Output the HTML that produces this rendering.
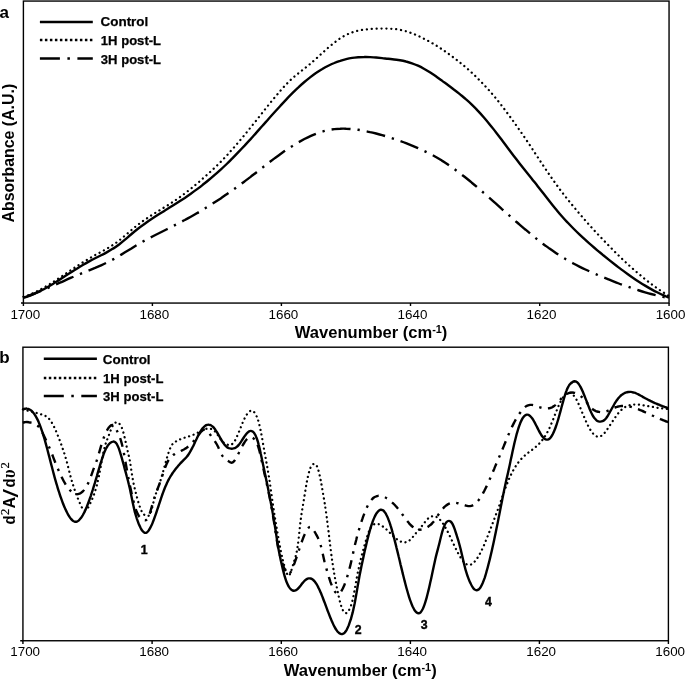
<!DOCTYPE html>
<html>
<head>
<meta charset="utf-8">
<title>Figure</title>
<style>
html,body{margin:0;padding:0;background:#fff;}
body{width:685px;height:681px;overflow:hidden;}
svg{display:block;}
text{font-family:"Liberation Sans",sans-serif;fill:#000;}
.b{font-weight:bold;}
.tick{font-size:12.7px;}
.leg{font-size:13.7px;font-weight:bold;stroke:#000;stroke-width:0.25px;}
.ax{font-size:16px;font-weight:bold;}
.pk{font-size:12.3px;font-weight:bold;stroke:#000;stroke-width:0.4px;}
.pl{font-size:17px;font-weight:bold;}
.c{fill:none;stroke:#000;stroke-width:2.4;stroke-linejoin:round;}
.l{fill:none;stroke:#000;stroke-width:2.5;}
.ldot{stroke-dasharray:2.5 2.5;}
.ldd{stroke-dasharray:20 7.5 2.5 7.5;}
.dot{stroke-dasharray:0.1 4.8;stroke-linecap:round;stroke-width:2.25;}
.dd{stroke-dasharray:19 7 2.3 7;}
.dotb{stroke-dasharray:0.1 4.62;stroke-linecap:round;stroke-width:2.25;}
.ddb{stroke-dasharray:8.8 6.45 2.4 6.45;}
.sf{font-family:"Liberation Serif",serif;font-weight:normal;}
.fr{fill:none;stroke:#000;stroke-width:1.4;}
</style>
</head>
<body>
<svg width="685" height="681" viewBox="0 0 685 681">
<rect x="0" y="0" width="685" height="681" fill="#fff"/>

<!-- ===== panel a ===== -->
<g id="panel-a">
<rect class="fr" x="23.4" y="1.06" width="645.65" height="302" stroke-width="1.5"/>
<path class="fr" stroke-width="1.35" d="M21 303.06H23.4M23.4 303v3M152.4 303v3M281.4 303v3M410.5 303v3M539.7 303v3M669.05 303v3"/>
<text class="pl" x="-0.6" y="17.6">a</text>
<path class="l" d="M39.9 22.1H92.8"/>
<path class="l ldot" d="M39.9 40H92.8"/>
<path class="l ldd" d="M39.9 58.6H92.8"/>
<text class="leg" x="100.5" y="25.8" textLength="47.8" lengthAdjust="spacingAndGlyphs">Control</text>
<text class="leg" x="100.8" y="44.8" textLength="60.3" lengthAdjust="spacingAndGlyphs">1H post-L</text>
<text class="leg" x="100.8" y="63.7" textLength="60.3" lengthAdjust="spacingAndGlyphs">3H post-L</text>
<path class="c" d="M23.4 297.7C25.4 297.2 27.4 296.5 29.4 295.8C31.4 295.1 33.4 294.2 35.4 293.3C37.3 292.4 39.3 291.5 41.3 290.4C43.3 289.4 45.3 288.3 47.3 287.2C49.3 286.1 51.3 284.9 53.3 283.7C55.3 282.4 57.3 281.2 59.3 279.9C61.3 278.7 63.3 277.4 65.2 276.1C67.2 274.8 69.2 273.5 71.2 272.3C73.2 271 75.2 269.7 77.2 268.5C79.2 267.2 81.2 266 83.2 264.8C85.2 263.6 87.2 262.5 89.2 261.4C91.2 260.3 93.1 259.3 95.1 258.3C97.1 257.3 99.1 256.3 101.1 255.3C103.1 254.3 105.1 253.2 107.1 252.1C109.1 251 111.1 249.9 113.1 248.6C115.1 247.4 117.1 246 119.1 244.5C121 243 123 241.4 125 239.7C127 238 129 236.2 131 234.5C133 232.8 135 231.1 137 229.5C139 227.9 141 226.4 143 225C145 223.5 147 222.1 148.9 220.7C150.9 219.4 152.9 218.1 154.9 216.8C156.9 215.5 158.9 214.2 160.9 213C162.9 211.8 164.9 210.5 166.9 209.3C168.9 208.1 170.9 206.9 172.9 205.6C174.8 204.4 176.8 203.1 178.8 201.8C180.8 200.5 182.8 199.2 184.8 197.9C186.8 196.5 188.8 195.1 190.8 193.7C192.8 192.3 194.8 190.9 196.8 189.4C198.8 187.9 200.8 186.4 202.7 184.8C204.7 183.3 206.7 181.7 208.7 180C210.7 178.4 212.7 176.7 214.7 174.9C216.7 173.2 218.7 171.4 220.7 169.6C222.7 167.8 224.7 165.9 226.7 164C228.7 162.1 230.6 160.1 232.6 158.1C234.6 156.1 236.6 154 238.6 151.9C240.6 149.8 242.6 147.7 244.6 145.6C246.6 143.4 248.6 141.2 250.6 139.1C252.6 136.9 254.6 134.6 256.6 132.4C258.5 130.2 260.5 128 262.5 125.7C264.5 123.5 266.5 121.2 268.5 119C270.5 116.7 272.5 114.5 274.5 112.3C276.5 110.1 278.5 107.9 280.5 105.7C282.5 103.5 284.4 101.4 286.4 99.3C288.4 97.2 290.4 95.2 292.4 93.2C294.4 91.2 296.4 89.2 298.4 87.4C300.4 85.5 302.4 83.7 304.4 82C306.4 80.3 308.4 78.7 310.4 77.1C312.3 75.6 314.3 74.1 316.3 72.8C318.3 71.4 320.3 70.1 322.3 69C324.3 67.8 326.3 66.7 328.3 65.7C330.3 64.7 332.3 63.8 334.3 63C336.3 62.1 338.3 61.4 340.2 60.8C342.2 60.1 344.2 59.6 346.2 59.1C348.2 58.6 350.2 58.2 352.2 57.9C354.2 57.6 356.2 57.4 358.2 57.2C360.2 57.1 362.2 57 364.2 57C366.2 56.9 368.1 57 370.1 57.1C372.1 57.2 374.1 57.3 376.1 57.5C378.1 57.7 380.1 57.9 382.1 58.1C384.1 58.3 386.1 58.6 388.1 58.8C390.1 59.1 392.1 59.3 394.1 59.5C396 59.7 398 60 400 60.3C402 60.6 404 61 406 61.5C408 61.9 410 62.6 412 63.3C414 64 416 64.8 418 65.7C420 66.6 421.9 67.6 423.9 68.7C425.9 69.8 427.9 71 429.9 72.3C431.9 73.6 433.9 74.9 435.9 76.3C437.9 77.7 439.9 79.2 441.9 80.6C443.9 82.1 445.9 83.5 447.9 85C449.8 86.4 451.8 87.9 453.8 89.5C455.8 91 457.8 92.5 459.8 94.1C461.8 95.8 463.8 97.4 465.8 99.2C467.8 100.9 469.8 102.7 471.8 104.6C473.8 106.5 475.8 108.5 477.7 110.6C479.7 112.7 481.7 114.9 483.7 117.2C485.7 119.5 487.7 121.9 489.7 124.4C491.7 126.8 493.7 129.4 495.7 131.9C497.7 134.5 499.7 137.1 501.7 139.8C503.7 142.4 505.6 145.1 507.6 147.7C509.6 150.4 511.6 153 513.6 155.7C515.6 158.3 517.6 160.9 519.6 163.5C521.6 166 523.6 168.5 525.6 171C527.6 173.5 529.6 175.9 531.6 178.4C533.5 180.9 535.5 183.3 537.5 185.9C539.5 188.4 541.5 190.9 543.5 193.5C545.5 196.1 547.5 198.7 549.5 201.2C551.5 203.8 553.5 206.3 555.5 208.7C557.5 211.1 559.4 213.5 561.4 215.7C563.4 218 565.4 220.2 567.4 222.3C569.4 224.5 571.4 226.5 573.4 228.5C575.4 230.5 577.4 232.5 579.4 234.4C581.4 236.3 583.4 238.1 585.4 239.9C587.3 241.7 589.3 243.5 591.3 245.2C593.3 246.9 595.3 248.6 597.3 250.3C599.3 252 601.3 253.6 603.3 255.3C605.3 256.9 607.3 258.5 609.3 260.1C611.3 261.7 613.3 263.3 615.2 264.8C617.2 266.3 619.2 267.9 621.2 269.4C623.2 270.9 625.2 272.3 627.2 273.7C629.2 275.2 631.2 276.6 633.2 277.9C635.2 279.3 637.2 280.6 639.2 281.9C641.2 283.2 643.1 284.4 645.1 285.6C647.1 286.8 649.1 288 651.1 289.1C653.1 290.2 655.1 291.3 657.1 292.3C659.1 293.3 661.1 294.3 663.1 295.2C665.1 296.1 667.1 296.9 669 297.7"/>
<path class="c dot" d="M23.4 296.8C25.4 296.2 27.4 295.5 29.4 294.7C31.4 293.9 33.4 293 35.4 292.1C37.3 291.1 39.3 290.1 41.3 289C43.3 287.9 45.3 286.8 47.3 285.6C49.3 284.4 51.3 283.2 53.3 281.9C55.3 280.6 57.3 279.3 59.3 278C61.3 276.7 63.3 275.3 65.2 274C67.2 272.7 69.2 271.3 71.2 270C73.2 268.6 75.2 267.3 77.2 266C79.2 264.7 81.2 263.4 83.2 262.1C85.2 260.9 87.2 259.7 89.2 258.5C91.2 257.3 93.1 256.2 95.1 255.1C97.1 254 99.1 253 101.1 251.9C103.1 250.8 105.1 249.7 107.1 248.5C109.1 247.3 111.1 246.1 113.1 244.8C115.1 243.5 117.1 242.1 119.1 240.5C121 239 123 237.3 125 235.6C127 233.9 129 232.1 131 230.4C133 228.7 135 227 137 225.5C139 223.9 141 222.4 143 221C145 219.6 147 218.3 148.9 216.9C150.9 215.6 152.9 214.4 154.9 213.1C156.9 211.9 158.9 210.7 160.9 209.4C162.9 208.2 164.9 207 166.9 205.8C168.9 204.5 170.9 203.2 172.9 201.9C174.8 200.6 176.8 199.3 178.8 197.9C180.8 196.4 182.8 195 184.8 193.4C186.8 191.9 188.8 190.3 190.8 188.7C192.8 187.1 194.8 185.4 196.8 183.8C198.8 182.1 200.8 180.4 202.7 178.6C204.7 176.9 206.7 175.1 208.7 173.3C210.7 171.5 212.7 169.6 214.7 167.7C216.7 165.8 218.7 163.9 220.7 161.9C222.7 159.8 224.7 157.7 226.7 155.6C228.7 153.4 230.6 151.2 232.6 149C234.6 146.7 236.6 144.4 238.6 142C240.6 139.7 242.6 137.3 244.6 134.9C246.6 132.4 248.6 130 250.6 127.5C252.6 125.1 254.6 122.6 256.6 120.1C258.5 117.6 260.5 115.1 262.5 112.6C264.5 110 266.5 107.5 268.5 105.1C270.5 102.6 272.5 100.1 274.5 97.7C276.5 95.3 278.5 93 280.5 90.7C282.5 88.4 284.4 86.2 286.4 84.2C288.4 82.1 290.4 80.1 292.4 78.3C294.4 76.5 296.4 74.9 298.4 73.3C300.4 71.7 302.4 70.1 304.4 68.6C306.4 67 308.4 65.4 310.4 63.7C312.3 62 314.3 60.3 316.3 58.5C318.3 56.7 320.3 54.8 322.3 53C324.3 51.2 326.3 49.4 328.3 47.6C330.3 45.9 332.3 44.2 334.3 42.7C336.3 41.1 338.3 39.6 340.2 38.3C342.2 37 344.2 35.9 346.2 34.9C348.2 33.9 350.2 33.1 352.2 32.4C354.2 31.7 356.2 31.2 358.2 30.7C360.2 30.3 362.2 29.9 364.2 29.6C366.2 29.4 368.1 29.2 370.1 29C372.1 28.9 374.1 28.8 376.1 28.7C378.1 28.7 380.1 28.6 382.1 28.6C384.1 28.6 386.1 28.6 388.1 28.6C390.1 28.7 392.1 28.8 394.1 29C396 29.2 398 29.4 400 29.8C402 30.2 404 30.7 406 31.3C408 31.9 410 32.6 412 33.3C414 34.1 416 34.9 418 35.8C420 36.7 421.9 37.7 423.9 38.7C425.9 39.7 427.9 40.7 429.9 41.8C431.9 43 433.9 44.1 435.9 45.3C437.9 46.6 439.9 47.8 441.9 49.2C443.9 50.5 445.9 51.8 447.9 53.3C449.8 54.7 451.8 56.2 453.8 57.7C455.8 59.2 457.8 60.7 459.8 62.4C461.8 64 463.8 65.6 465.8 67.3C467.8 69.1 469.8 70.8 471.8 72.7C473.8 74.5 475.8 76.4 477.7 78.4C479.7 80.4 481.7 82.4 483.7 84.5C485.7 86.6 487.7 88.8 489.7 91.1C491.7 93.3 493.7 95.7 495.7 98.1C497.7 100.5 499.7 103 501.7 105.6C503.7 108.1 505.6 110.8 507.6 113.4C509.6 116.1 511.6 118.9 513.6 121.6C515.6 124.4 517.6 127.3 519.6 130.2C521.6 133 523.6 135.9 525.6 138.9C527.6 141.9 529.6 144.8 531.6 147.8C533.5 150.8 535.5 153.9 537.5 156.9C539.5 159.9 541.5 163 543.5 166C545.5 169 547.5 171.9 549.5 174.8C551.5 177.7 553.5 180.6 555.5 183.3C557.5 186.1 559.4 188.8 561.4 191.4C563.4 194 565.4 196.6 567.4 199.1C569.4 201.6 571.4 204 573.4 206.5C575.4 208.9 577.4 211.3 579.4 213.6C581.4 215.9 583.4 218.2 585.4 220.5C587.3 222.7 589.3 225 591.3 227.2C593.3 229.4 595.3 231.5 597.3 233.7C599.3 235.8 601.3 237.9 603.3 240C605.3 242.1 607.3 244.1 609.3 246.2C611.3 248.2 613.3 250.2 615.2 252.2C617.2 254.1 619.2 256.1 621.2 258C623.2 259.9 625.2 261.8 627.2 263.6C629.2 265.5 631.2 267.3 633.2 269.1C635.2 270.8 637.2 272.6 639.2 274.2C641.2 275.9 643.1 277.6 645.1 279.2C647.1 280.8 649.1 282.3 651.1 283.8C653.1 285.3 655.1 286.8 657.1 288.2C659.1 289.6 661.1 290.9 663.1 292.2C665.1 293.5 667.1 294.8 669 296"/>
<path class="c dd" d="M23.4 297.7C25.4 297 27.4 296.3 29.4 295.5C31.4 294.8 33.4 294 35.4 293.2C37.3 292.4 39.3 291.5 41.3 290.7C43.3 289.9 45.3 289 47.3 288.2C49.3 287.3 51.3 286.4 53.3 285.6C55.3 284.7 57.3 283.8 59.3 282.9C61.3 282.1 63.3 281.2 65.2 280.3C67.2 279.5 69.2 278.6 71.2 277.7C73.2 276.9 75.2 276 77.2 275.2C79.2 274.4 81.2 273.6 83.2 272.7C85.2 271.9 87.2 271.1 89.2 270.3C91.2 269.5 93.1 268.7 95.1 267.9C97.1 267 99.1 266.2 101.1 265.3C103.1 264.4 105.1 263.5 107.1 262.5C109.1 261.5 111.1 260.5 113.1 259.4C115.1 258.3 117.1 257.1 119.1 256C121 254.8 123 253.6 125 252.3C127 251.1 129 249.9 131 248.7C133 247.4 135 246.2 137 245C139 243.8 141 242.7 143 241.5C145 240.4 147 239.3 148.9 238.3C150.9 237.2 152.9 236.2 154.9 235.2C156.9 234.2 158.9 233.2 160.9 232.2C162.9 231.2 164.9 230.2 166.9 229.2C168.9 228.2 170.9 227.2 172.9 226.2C174.8 225.2 176.8 224.2 178.8 223.1C180.8 222.1 182.8 221 184.8 220C186.8 218.9 188.8 217.8 190.8 216.7C192.8 215.6 194.8 214.5 196.8 213.3C198.8 212.1 200.8 211 202.7 209.8C204.7 208.6 206.7 207.4 208.7 206.1C210.7 204.9 212.7 203.6 214.7 202.3C216.7 201 218.7 199.7 220.7 198.4C222.7 197 224.7 195.7 226.7 194.3C228.7 192.9 230.6 191.5 232.6 190.1C234.6 188.7 236.6 187.3 238.6 185.8C240.6 184.4 242.6 182.9 244.6 181.4C246.6 179.9 248.6 178.4 250.6 176.9C252.6 175.3 254.6 173.8 256.6 172.2C258.5 170.7 260.5 169.1 262.5 167.6C264.5 166 266.5 164.5 268.5 162.9C270.5 161.4 272.5 159.9 274.5 158.4C276.5 156.9 278.5 155.5 280.5 154C282.5 152.6 284.4 151.2 286.4 149.9C288.4 148.5 290.4 147.2 292.4 146C294.4 144.7 296.4 143.5 298.4 142.3C300.4 141.2 302.4 140.1 304.4 139C306.4 138 308.4 137 310.4 136.1C312.3 135.2 314.3 134.4 316.3 133.6C318.3 132.9 320.3 132.2 322.3 131.6C324.3 131 326.3 130.5 328.3 130.1C330.3 129.7 332.3 129.4 334.3 129.1C336.3 128.9 338.3 128.7 340.2 128.7C342.2 128.6 344.2 128.6 346.2 128.7C348.2 128.7 350.2 128.9 352.2 129.1C354.2 129.3 356.2 129.5 358.2 129.8C360.2 130.1 362.2 130.4 364.2 130.8C366.2 131.2 368.1 131.6 370.1 132.1C372.1 132.5 374.1 133 376.1 133.5C378.1 134 380.1 134.5 382.1 135.1C384.1 135.7 386.1 136.3 388.1 136.9C390.1 137.5 392.1 138.2 394.1 138.8C396 139.5 398 140.2 400 141C402 141.7 404 142.4 406 143.2C408 144 410 144.8 412 145.6C414 146.5 416 147.3 418 148.2C420 149.1 421.9 150 423.9 150.9C425.9 151.8 427.9 152.8 429.9 153.8C431.9 154.8 433.9 155.9 435.9 157C437.9 158.1 439.9 159.3 441.9 160.6C443.9 161.8 445.9 163.1 447.9 164.5C449.8 165.8 451.8 167.2 453.8 168.7C455.8 170.1 457.8 171.6 459.8 173.1C461.8 174.7 463.8 176.2 465.8 177.8C467.8 179.4 469.8 181 471.8 182.7C473.8 184.3 475.8 186 477.7 187.7C479.7 189.4 481.7 191.1 483.7 192.9C485.7 194.6 487.7 196.4 489.7 198.1C491.7 199.9 493.7 201.7 495.7 203.4C497.7 205.2 499.7 207 501.7 208.8C503.7 210.5 505.6 212.3 507.6 214.1C509.6 215.9 511.6 217.6 513.6 219.4C515.6 221.1 517.6 222.9 519.6 224.6C521.6 226.3 523.6 228.1 525.6 229.7C527.6 231.4 529.6 233.1 531.6 234.7C533.5 236.4 535.5 238 537.5 239.5C539.5 241.1 541.5 242.7 543.5 244.2C545.5 245.7 547.5 247.1 549.5 248.6C551.5 250 553.5 251.4 555.5 252.7C557.5 254.1 559.4 255.4 561.4 256.6C563.4 257.9 565.4 259.1 567.4 260.2C569.4 261.4 571.4 262.5 573.4 263.5C575.4 264.6 577.4 265.6 579.4 266.6C581.4 267.6 583.4 268.6 585.4 269.5C587.3 270.4 589.3 271.3 591.3 272.2C593.3 273.1 595.3 274 597.3 274.8C599.3 275.7 601.3 276.5 603.3 277.3C605.3 278.1 607.3 278.9 609.3 279.7C611.3 280.5 613.3 281.3 615.2 282.1C617.2 282.9 619.2 283.6 621.2 284.4C623.2 285.1 625.2 285.8 627.2 286.5C629.2 287.2 631.2 287.9 633.2 288.6C635.2 289.3 637.2 289.9 639.2 290.5C641.2 291.2 643.1 291.8 645.1 292.3C647.1 292.9 649.1 293.5 651.1 294C653.1 294.5 655.1 295 657.1 295.5C659.1 296 661.1 296.4 663.1 296.9C665.1 297.3 667.1 297.7 669 298"/>
<g class="tick">
<text x="10.40" y="319.35" font-size="13" textLength="29.8" lengthAdjust="spacingAndGlyphs">1700</text>
<text x="139.45" y="319.35" font-size="13" textLength="29.8" lengthAdjust="spacingAndGlyphs">1680</text>
<text x="268.50" y="319.35" font-size="13" textLength="29.8" lengthAdjust="spacingAndGlyphs">1660</text>
<text x="397.55" y="319.35" font-size="13" textLength="29.8" lengthAdjust="spacingAndGlyphs">1640</text>
<text x="526.60" y="319.35" font-size="13" textLength="29.8" lengthAdjust="spacingAndGlyphs">1620</text>
<text x="655.65" y="319.35" font-size="13" textLength="29.8" lengthAdjust="spacingAndGlyphs">1600</text>
</g>
<text class="ax" x="294.8" y="338.1" textLength="152.6" lengthAdjust="spacingAndGlyphs">Wavenumber (cm<tspan font-size="10.5" dy="-5.5">-1</tspan><tspan dy="5.5">)</tspan></text>
<text class="ax" transform="translate(13.5 222.4) rotate(-90)" textLength="138.6" lengthAdjust="spacingAndGlyphs">Absorbance (A.U.)</text>
</g>

<!-- ===== panel b ===== -->
<g id="panel-b">
<rect class="fr" x="22.93" y="347.2" width="645.47" height="293.55" stroke-width="1.55"/>
<path class="fr" stroke-width="1.35" d="M20.2 640.75H22.9M22.93 640.8v3.1M152.1 640.8v3.1M281.3 640.8v3.1M410.4 640.8v3.1M539.4 640.8v3.1M668.4 640.8v3.1"/>
<text class="pl" x="-0.7" y="363.4">b</text>
<path class="l" d="M43.8 358.8H96.9"/>
<path class="l ldot" d="M43.8 378H96.9"/>
<path class="l ldd" d="M43.8 395.9H96.9"/>
<text class="leg" x="102.8" y="364.2" textLength="47.8" lengthAdjust="spacingAndGlyphs">Control</text>
<text class="leg" x="103.1" y="382.8" textLength="60.3" lengthAdjust="spacingAndGlyphs">1H post-L</text>
<text class="leg" x="103.1" y="401" textLength="60.3" lengthAdjust="spacingAndGlyphs">3H post-L</text>
<path class="c" d="M22.9 409.6C23.6 409.2 24.3 408.9 24.9 408.8C25.6 408.6 26.3 408.5 26.9 408.6C27.6 408.7 28.3 408.8 28.9 409.1C29.6 409.4 30.3 409.8 30.9 410.3C31.6 410.8 32.3 411.5 32.9 412.2C33.6 413 34.3 413.9 34.9 414.9C35.6 416 36.3 417.1 36.9 418.4C37.6 419.7 38.3 421.1 38.9 422.7C39.6 424.2 40.2 425.9 40.9 427.8C41.6 429.6 42.2 431.6 42.9 433.7C43.6 435.8 44.2 438.1 44.9 440.4C45.6 442.8 46.2 445.2 46.9 447.7C47.6 450.2 48.2 452.8 48.9 455.4C49.6 457.9 50.2 460.5 50.9 463.1C51.6 465.7 52.2 468.3 52.9 470.8C53.6 473.4 54.2 475.9 54.9 478.3C55.6 480.7 56.2 483 56.9 485.2C57.6 487.5 58.2 489.7 58.9 491.7C59.6 493.8 60.2 495.8 60.9 497.7C61.6 499.6 62.2 501.4 62.9 503.2C63.6 504.9 64.2 506.5 64.9 508C65.6 509.5 66.2 511 66.9 512.3C67.6 513.6 68.2 514.8 68.9 515.9C69.6 517 70.2 518 70.9 518.8C71.6 519.6 72.2 520.3 72.9 520.8C73.6 521.2 74.2 521.6 74.9 521.7C75.6 521.8 76.2 521.8 76.9 521.6C77.6 521.3 78.2 520.9 78.9 520.3C79.6 519.7 80.2 519 80.9 518.1C81.5 517.2 82.2 516.2 82.9 515C83.5 513.8 84.2 512.5 84.9 511.1C85.5 509.7 86.2 508.2 86.9 506.5C87.5 504.9 88.2 503.1 88.9 501.3C89.5 499.5 90.2 497.6 90.9 495.6C91.5 493.6 92.2 491.5 92.9 489.4C93.5 487.3 94.2 485.1 94.9 482.9C95.5 480.7 96.2 478.4 96.9 476.1C97.5 473.8 98.2 471.5 98.9 469.2C99.5 466.9 100.2 464.6 100.9 462.5C101.5 460.3 102.2 458.2 102.9 456.3C103.5 454.4 104.2 452.6 104.9 451.1C105.5 449.6 106.2 448.3 106.9 447.2C107.5 446 108.2 445.1 108.9 444.3C109.5 443.6 110.2 442.9 110.9 442.5C111.5 442 112.2 441.7 112.9 441.6C113.5 441.5 114.2 441.6 114.9 442C115.5 442.4 116.2 443.1 116.9 444.2C117.5 445.3 118.2 446.8 118.9 448.6C119.5 450.4 120.2 452.5 120.8 454.7C121.5 457 122.2 459.3 122.8 461.7C123.5 464.1 124.2 466.6 124.8 469.1C125.5 471.5 126.2 474 126.8 476.5C127.5 479 128.2 481.5 128.8 484.3C129.5 487 130.2 490 130.8 493.2C131.5 496.4 132.2 499.8 132.8 503.1C133.5 506.3 134.2 509.3 134.8 511.9C135.5 514.4 136.2 516.6 136.8 518.6C137.5 520.6 138.2 522.3 138.8 524C139.5 525.6 140.2 527.1 140.8 528.3C141.5 529.5 142.2 530.6 142.8 531.3C143.5 532.1 144.2 532.6 144.8 532.8C145.5 532.9 146.2 532.8 146.8 532.4C147.5 531.9 148.2 531.2 148.8 530.3C149.5 529.3 150.2 528.2 150.8 526.8C151.5 525.5 152.2 523.9 152.8 522.3C153.5 520.6 154.2 518.8 154.8 516.9C155.5 515.1 156.2 513.1 156.8 511.1C157.5 509.1 158.2 507.1 158.8 505.1C159.5 503.1 160.2 501 160.8 499.1C161.5 497.1 162.1 495.1 162.8 493.3C163.5 491.4 164.1 489.7 164.8 488C165.5 486.4 166.1 484.9 166.8 483.4C167.5 482 168.1 480.7 168.8 479.4C169.5 478.2 170.1 477 170.8 475.9C171.5 474.8 172.1 473.8 172.8 472.8C173.5 471.9 174.1 470.9 174.8 470.1C175.5 469.2 176.1 468.4 176.8 467.5C177.5 466.7 178.1 465.9 178.8 465.2C179.5 464.4 180.1 463.7 180.8 462.9C181.5 462.2 182.1 461.5 182.8 460.8C183.5 460.1 184.1 459.4 184.8 458.8C185.5 458.1 186.1 457.5 186.8 456.7C187.5 455.9 188.1 455 188.8 454C189.5 453 190.1 451.8 190.8 450.6C191.5 449.4 192.1 448.1 192.8 446.8C193.5 445.5 194.1 444.1 194.8 442.7C195.5 441.3 196.1 439.8 196.8 438.5C197.5 437.1 198.1 435.7 198.8 434.4C199.5 433.2 200.1 432 200.8 430.9C201.5 429.8 202.1 428.9 202.8 428.1C203.4 427.3 204.1 426.7 204.8 426.1C205.4 425.6 206.1 425.2 206.8 425C207.4 424.7 208.1 424.6 208.8 424.7C209.4 424.7 210.1 424.9 210.8 425.2C211.4 425.5 212.1 426 212.8 426.6C213.4 427.2 214.1 428 214.8 428.9C215.4 429.8 216.1 430.8 216.8 431.9C217.4 433 218.1 434.2 218.8 435.3C219.4 436.5 220.1 437.7 220.8 438.9C221.4 440.1 222.1 441.2 222.8 442.2C223.4 443.3 224.1 444.2 224.8 445.1C225.4 445.9 226.1 446.5 226.8 447C227.4 447.5 228.1 447.9 228.8 448.2C229.4 448.4 230.1 448.6 230.8 448.6C231.4 448.7 232.1 448.7 232.8 448.6C233.4 448.6 234.1 448.4 234.8 448.2C235.4 447.9 236.1 447.5 236.8 446.9C237.4 446.4 238.1 445.7 238.8 444.9C239.4 444.1 240.1 443.1 240.8 442.1C241.4 441.1 242.1 440.1 242.7 439.1C243.4 438 244.1 437 244.7 436.1C245.4 435.1 246.1 434.2 246.7 433.5C247.4 432.7 248.1 432.1 248.7 431.6C249.4 431.2 250.1 430.9 250.7 430.9C251.4 430.9 252.1 431.1 252.7 431.6C253.4 432.1 254.1 432.9 254.7 433.9C255.4 435 256.1 436.5 256.7 438.3C257.4 440.1 258.1 442.2 258.7 444.8C259.4 447.4 260.1 450.4 260.7 453.5C261.4 456.6 262.1 459.9 262.7 463.1C263.4 466.2 264.1 469.4 264.7 472.5C265.4 475.7 266.1 478.9 266.7 482.1C267.4 485.3 268.1 488.5 268.7 491.8C269.4 495.1 270.1 498.5 270.7 502C271.4 505.5 272.1 509.1 272.7 512.9C273.4 516.7 274.1 520.6 274.7 524.8C275.4 529 276.1 533.5 276.7 537.9C277.4 542.2 278.1 546.5 278.7 550.1C279.4 553.8 280.1 556.9 280.7 560C281.4 563 282.1 566 282.7 568.7C283.4 571.5 284 574 284.7 576.3C285.4 578.6 286 580.6 286.7 582.3C287.4 584 288 585.4 288.7 586.5C289.4 587.7 290 588.6 290.7 589.2C291.4 589.9 292 590.3 292.7 590.5C293.4 590.7 294 590.8 294.7 590.6C295.4 590.5 296 590.2 296.7 589.7C297.4 589.3 298 588.7 298.7 587.9C299.4 587.2 300 586.3 300.7 585.5C301.4 584.6 302 583.7 302.7 582.9C303.4 582 304 581.2 304.7 580.6C305.4 580 306 579.5 306.7 579.1C307.4 578.7 308 578.5 308.7 578.4C309.4 578.3 310 578.3 310.7 578.5C311.4 578.7 312 579 312.7 579.5C313.4 580 314 580.7 314.7 581.5C315.4 582.3 316 583.3 316.7 584.4C317.4 585.5 318 586.8 318.7 588.2C319.4 589.5 320 591 320.7 592.6C321.4 594.2 322 595.8 322.7 597.5C323.3 599.2 324 601 324.7 602.7C325.3 604.5 326 606.3 326.7 608.1C327.3 609.9 328 611.7 328.7 613.4C329.3 615.1 330 616.8 330.7 618.4C331.3 620.1 332 621.6 332.7 623.1C333.3 624.5 334 625.9 334.7 627.1C335.3 628.3 336 629.4 336.7 630.4C337.3 631.3 338 632.1 338.7 632.7C339.3 633.3 340 633.7 340.7 633.9C341.3 634.1 342 634.2 342.7 633.9C343.3 633.7 344 633.3 344.7 632.6C345.3 631.9 346 631 346.7 629.8C347.3 628.6 348 627.1 348.7 625.4C349.3 623.7 350 621.8 350.7 619.7C351.3 617.5 352 615.1 352.7 612.4C353.3 609.7 354 606.7 354.7 603.3C355.3 599.8 356 596 356.7 592.1C357.3 588.2 358 584.2 358.7 580.5C359.3 576.7 360 573.3 360.7 570C361.3 566.8 362 563.7 362.7 560.6C363.3 557.6 364 554.5 364.6 551.5C365.3 548.6 366 545.7 366.6 542.9C367.3 540.1 368 537.4 368.6 534.9C369.3 532.4 370 530.1 370.6 527.9C371.3 525.7 372 523.7 372.6 521.8C373.3 520 374 518.3 374.6 516.9C375.3 515.4 376 514.2 376.6 513.2C377.3 512.2 378 511.4 378.6 510.8C379.3 510.2 380 509.9 380.6 509.8C381.3 509.7 382 509.8 382.6 510.2C383.3 510.5 384 511.1 384.6 512C385.3 512.8 386 513.9 386.6 515.2C387.3 516.5 388 518.1 388.6 519.9C389.3 521.6 390 523.6 390.6 525.7C391.3 527.9 392 530.2 392.6 532.6C393.3 535 394 537.5 394.6 540.1C395.3 542.7 396 545.4 396.6 548.1C397.3 550.8 398 553.6 398.6 556.3C399.3 559.1 400 561.9 400.6 564.7C401.3 567.5 402 570.2 402.6 572.9C403.3 575.7 404 578.3 404.6 580.9C405.3 583.5 405.9 586.1 406.6 588.5C407.3 590.9 407.9 593.2 408.6 595.4C409.3 597.5 409.9 599.6 410.6 601.4C411.3 603.3 411.9 605 412.6 606.5C413.3 607.9 413.9 609.2 414.6 610.3C415.3 611.3 415.9 612.1 416.6 612.6C417.3 613.1 417.9 613.4 418.6 613.3C419.3 613.3 419.9 613 420.6 612.3C421.3 611.6 421.9 610.6 422.6 609.3C423.3 607.9 423.9 606.3 424.6 604.3C425.3 602.4 425.9 600.2 426.6 597.8C427.3 595.3 427.9 592.7 428.6 589.9C429.3 587.1 429.9 584.1 430.6 581.1C431.3 578 431.9 574.9 432.6 571.7C433.3 568.5 433.9 565.4 434.6 562.4C435.3 559.4 435.9 556.5 436.6 553.9C437.3 551.3 437.9 548.9 438.6 546.3C439.3 543.7 439.9 540.9 440.6 538.2C441.3 535.5 441.9 532.9 442.6 530.7C443.3 528.4 443.9 526.7 444.6 525.2C445.2 523.8 445.9 522.8 446.6 522C447.2 521.3 447.9 520.9 448.6 520.9C449.2 520.8 449.9 521 450.6 521.5C451.2 522 451.9 522.8 452.6 524.1C453.2 525.3 453.9 527 454.6 528.9C455.2 530.8 455.9 532.9 456.6 535C457.2 537.1 457.9 539.2 458.6 541.5C459.2 543.7 459.9 546.2 460.6 549C461.2 551.7 461.9 554.6 462.6 557.5C463.2 560.4 463.9 563.3 464.6 566C465.2 568.7 465.9 571.1 466.6 573.2C467.2 575.3 467.9 577.2 468.6 578.9C469.2 580.6 469.9 582.1 470.6 583.4C471.2 584.8 471.9 586.1 472.6 587.1C473.2 588.1 473.9 589 474.6 589.5C475.2 590.1 475.9 590.3 476.6 590.3C477.2 590.3 477.9 590.1 478.6 589.6C479.2 589 479.9 588.2 480.6 587.2C481.2 586.2 481.9 584.9 482.6 583.3C483.2 581.8 483.9 580 484.6 578.1C485.2 576.1 485.9 574 486.5 571.7C487.2 569.4 487.9 566.9 488.5 564.3C489.2 561.7 489.9 559 490.5 556.2C491.2 553.3 491.9 550.4 492.5 547.4C493.2 544.4 493.9 541.3 494.5 538.2C495.2 535 495.9 531.8 496.5 528.5C497.2 525.3 497.9 521.9 498.5 518.6C499.2 515.2 499.9 511.8 500.5 508.4C501.2 504.9 501.9 501.5 502.5 498.2C503.2 494.8 503.9 491.6 504.5 488.4C505.2 485.3 505.9 482.3 506.5 479.3C507.2 476.3 507.9 473.4 508.5 470.4C509.2 467.4 509.9 464.3 510.5 461.1C511.2 458 511.9 454.8 512.5 451.7C513.2 448.6 513.9 445.5 514.5 442.7C515.2 439.8 515.9 437.2 516.5 434.7C517.2 432.3 517.9 430 518.5 428C519.2 425.9 519.9 424.1 520.5 422.5C521.2 420.9 521.9 419.5 522.5 418.4C523.2 417.3 523.9 416.4 524.5 415.8C525.2 415.2 525.9 414.8 526.5 414.7C527.2 414.5 527.8 414.6 528.5 414.8C529.2 415.1 529.8 415.6 530.5 416.3C531.2 416.9 531.8 417.8 532.5 418.8C533.2 419.8 533.8 420.9 534.5 422.2C535.2 423.4 535.8 424.7 536.5 426C537.2 427.4 537.8 428.7 538.5 430C539.2 431.3 539.8 432.5 540.5 433.6C541.2 434.8 541.8 435.8 542.5 436.6C543.2 437.5 543.8 438.2 544.5 438.7C545.2 439.2 545.8 439.5 546.5 439.6C547.2 439.7 547.8 439.6 548.5 439.3C549.2 439 549.8 438.5 550.5 437.7C551.2 436.9 551.8 435.9 552.5 434.7C553.2 433.4 553.8 432 554.5 430.3C555.2 428.7 555.8 426.8 556.5 424.8C557.2 422.8 557.8 420.7 558.5 418.4C559.2 416.1 559.8 413.6 560.5 411.1C561.2 408.6 561.8 406.1 562.5 403.7C563.2 401.2 563.8 398.8 564.5 396.6C565.2 394.4 565.8 392.3 566.5 390.6C567.1 388.8 567.8 387.4 568.5 386.3C569.1 385.2 569.8 384.3 570.5 383.7C571.1 383 571.8 382.5 572.5 382.1C573.1 381.7 573.8 381.3 574.5 381.2C575.1 381.2 575.8 381.3 576.5 381.8C577.1 382.2 577.8 382.8 578.5 383.7C579.1 384.6 579.8 385.7 580.5 386.9C581.1 388.1 581.8 389.5 582.5 391C583.1 392.5 583.8 394.1 584.5 395.8C585.1 397.4 585.8 399.2 586.5 400.9C587.1 402.7 587.8 404.4 588.5 406.1C589.1 407.8 589.8 409.4 590.5 410.9C591.1 412.4 591.8 413.8 592.5 415.1C593.1 416.3 593.8 417.4 594.5 418.2C595.1 419.1 595.8 419.7 596.5 420.3C597.1 420.8 597.8 421.1 598.5 421.4C599.1 421.6 599.8 421.7 600.5 421.6C601.1 421.6 601.8 421.5 602.5 421.2C603.1 420.9 603.8 420.5 604.5 420C605.1 419.4 605.8 418.6 606.5 417.7C607.1 416.8 607.8 415.8 608.4 414.7C609.1 413.6 609.8 412.4 610.4 411.1C611.1 409.9 611.8 408.7 612.4 407.5C613.1 406.3 613.8 405.1 614.4 404C615.1 402.8 615.8 401.8 616.4 400.8C617.1 399.8 617.8 398.9 618.4 398.1C619.1 397.3 619.8 396.6 620.4 396C621.1 395.4 621.8 394.9 622.4 394.4C623.1 393.9 623.8 393.5 624.4 393.2C625.1 392.9 625.8 392.6 626.4 392.4C627.1 392.2 627.8 392.1 628.4 392C629.1 391.9 629.8 391.9 630.4 391.9C631.1 391.9 631.8 392 632.4 392.2C633.1 392.3 633.8 392.5 634.4 392.7C635.1 392.9 635.8 393.2 636.4 393.5C637.1 393.8 637.8 394.1 638.4 394.4C639.1 394.8 639.8 395.1 640.4 395.5C641.1 395.8 641.8 396.2 642.4 396.6C643.1 397 643.8 397.4 644.4 397.7C645.1 398.1 645.8 398.5 646.4 398.8C647.1 399.2 647.8 399.6 648.4 399.9C649.1 400.2 649.7 400.6 650.4 400.9C651.1 401.2 651.7 401.6 652.4 401.9C653.1 402.2 653.7 402.5 654.4 402.8C655.1 403.1 655.7 403.4 656.4 403.7C657.1 404 657.7 404.3 658.4 404.5C659.1 404.8 659.7 405.1 660.4 405.3C661.1 405.6 661.7 405.8 662.4 406.1C663.1 406.3 663.7 406.6 664.4 406.8C665.1 407 665.7 407.3 666.4 407.5C667.1 407.7 667.7 407.9 668.4 408.1"/>
<path class="c dotb" d="M22.9 409.4C23.6 409.6 24.3 409.8 24.9 409.9C25.6 410.1 26.3 410.3 26.9 410.4C27.6 410.6 28.3 410.8 28.9 410.9C29.6 411.1 30.3 411.3 30.9 411.5C31.6 411.6 32.3 411.8 32.9 412C33.6 412.2 34.3 412.4 34.9 412.6C35.6 412.8 36.3 412.9 36.9 413.1C37.6 413.3 38.3 413.5 38.9 413.7C39.6 413.9 40.2 414.1 40.9 414.3C41.6 414.5 42.2 414.8 42.9 415C43.6 415.2 44.2 415.4 44.9 415.7C45.6 416 46.2 416.4 46.9 416.9C47.6 417.3 48.2 417.9 48.9 418.6C49.6 419.3 50.2 420.2 50.9 421.2C51.6 422.2 52.2 423.3 52.9 424.6C53.6 425.8 54.2 427.2 54.9 428.6C55.6 430.1 56.2 431.6 56.9 433.3C57.6 434.9 58.2 436.6 58.9 438.3C59.6 440 60.2 441.8 60.9 443.6C61.6 445.4 62.2 447.3 62.9 449.2C63.6 451.1 64.2 453.1 64.9 455.2C65.6 457.4 66.2 459.7 66.9 462.2C67.6 464.7 68.2 467.4 68.9 470C69.6 472.7 70.2 475.3 70.9 477.7C71.6 480.1 72.2 482.3 72.9 484.5C73.6 486.6 74.2 488.6 74.9 490.5C75.6 492.4 76.2 494.2 76.9 496C77.6 497.7 78.2 499.4 78.9 501C79.6 502.6 80.2 504.1 80.9 505.5C81.5 506.9 82.2 508.1 82.9 509C83.5 509.8 84.2 510.4 84.9 510.5C85.5 510.6 86.2 510.2 86.9 509.4C87.5 508.6 88.2 507.5 88.9 506.2C89.5 504.9 90.2 503.5 90.9 502.1C91.5 500.7 92.2 499.2 92.9 497.5C93.5 495.8 94.2 494 94.9 492C95.5 489.9 96.2 487.6 96.9 485C97.5 482.5 98.2 479.6 98.9 476.3C99.5 473 100.2 469.4 100.9 465.7C101.5 462.1 102.2 458.4 102.9 455C103.5 451.7 104.2 448.7 104.9 446.3C105.5 443.9 106.2 442.1 106.9 440.4C107.5 438.7 108.2 436.9 108.9 435.1C109.5 433.3 110.2 431.5 110.9 429.8C111.5 428.1 112.2 426.6 112.9 425.5C113.5 424.3 114.2 423.5 114.9 423C115.5 422.5 116.2 422.4 116.9 422.4C117.5 422.5 118.2 422.8 118.9 423.3C119.5 423.8 120.2 424.5 120.8 425.7C121.5 426.9 122.2 428.5 122.8 430.6C123.5 432.7 124.2 435.3 124.8 438.2C125.5 441.1 126.2 444.4 126.8 447.4C127.5 450.4 128.2 452.9 128.8 455.8C129.5 458.7 130.2 462.3 130.8 466.8C131.5 471.2 132.2 475.9 132.8 479.5C133.5 483.2 134.2 486.2 134.8 488.9C135.5 491.6 136.2 494.2 136.8 496.7C137.5 499.2 138.2 501.6 138.8 503.7C139.5 505.9 140.2 507.9 140.8 509.5C141.5 511.1 142.2 512.5 142.8 513.4C143.5 514.3 144.2 514.7 144.8 515C145.5 515.3 146.2 515.4 146.8 515.6C147.5 515.8 148.2 516 148.8 515.7C149.5 515.3 150.2 514.4 150.8 512.5C151.5 510.5 152.2 507.7 152.8 504.9C153.5 502 154.2 499.2 154.8 497C155.5 494.8 156.2 492.9 156.8 491.1C157.5 489.3 158.2 487.6 158.8 485.7C159.5 483.8 160.2 481.7 160.8 479.5C161.5 477.3 162.1 475 162.8 472.6C163.5 470.2 164.1 467.8 164.8 465.4C165.5 463 166.1 460.6 166.8 458.3C167.5 456.1 168.1 453.9 168.8 451.9C169.5 450 170.1 448.3 170.8 446.9C171.5 445.6 172.1 444.6 172.8 443.9C173.5 443.1 174.1 442.6 174.8 442.2C175.5 441.7 176.1 441.3 176.8 440.9C177.5 440.6 178.1 440.2 178.8 439.9C179.5 439.6 180.1 439.3 180.8 439.1C181.5 438.8 182.1 438.5 182.8 438.3C183.5 438.1 184.1 437.9 184.8 437.6C185.5 437.4 186.1 437.2 186.8 437C187.5 436.8 188.1 436.6 188.8 436.4C189.5 436.2 190.1 436 190.8 435.7C191.5 435.5 192.1 435.3 192.8 435C193.5 434.7 194.1 434.5 194.8 434.1C195.5 433.8 196.1 433.5 196.8 433.1C197.5 432.8 198.1 432.4 198.8 432.1C199.5 431.7 200.1 431.4 200.8 431C201.5 430.7 202.1 430.4 202.8 430.1C203.4 429.8 204.1 429.5 204.8 429.3C205.4 429 206.1 428.8 206.8 428.7C207.4 428.6 208.1 428.5 208.8 428.5C209.4 428.5 210.1 428.6 210.8 428.8C211.4 428.9 212.1 429.2 212.8 429.6C213.4 430 214.1 430.5 214.8 431.2C215.4 431.8 216.1 432.6 216.8 433.5C217.4 434.4 218.1 435.5 218.8 436.5C219.4 437.5 220.1 438.5 220.8 439.4C221.4 440.3 222.1 441.1 222.8 441.8C223.4 442.4 224.1 442.9 224.8 443.4C225.4 443.8 226.1 444.1 226.8 444.4C227.4 444.7 228.1 444.9 228.8 444.9C229.4 445 230.1 445 230.8 444.8C231.4 444.5 232.1 444.2 232.8 443.5C233.4 442.9 234.1 442.1 234.8 441C235.4 439.9 236.1 438.5 236.8 437C237.4 435.5 238.1 433.9 238.8 432.3C239.4 430.6 240.1 429 240.8 427.3C241.4 425.7 242.1 424.1 242.7 422.5C243.4 421 244.1 419.6 244.7 418.2C245.4 416.9 246.1 415.7 246.7 414.7C247.4 413.6 248.1 412.8 248.7 412.1C249.4 411.5 250.1 411 250.7 410.8C251.4 410.6 252.1 410.7 252.7 411C253.4 411.3 254.1 411.9 254.7 412.8C255.4 413.7 256.1 414.9 256.7 416.5C257.4 418.1 258.1 420 258.7 422.3C259.4 424.7 260.1 427.5 260.7 430.8C261.4 434.1 262.1 437.8 262.7 441.7C263.4 445.6 264.1 449.4 264.7 453.1C265.4 456.8 266.1 460.4 266.7 464.1C267.4 467.8 268.1 471.5 268.7 475.5C269.4 479.6 270.1 484 270.7 488.7C271.4 493.5 272.1 498.4 272.7 503.1C273.4 507.7 274.1 512.1 274.7 516.3C275.4 520.5 276.1 524.4 276.7 528.4C277.4 532.3 278.1 536.2 278.7 540C279.4 543.7 280.1 547.3 280.7 550.6C281.4 553.9 282.1 556.9 282.7 559.6C283.4 562.3 284 564.7 284.7 567C285.4 569.3 286 571.6 286.7 573.2C287.4 574.8 288 575.9 288.7 575.7C289.4 575.5 290 574.2 290.7 572.4C291.4 570.5 292 568.2 292.7 565.9C293.4 563.7 294 561.7 294.7 559.5C295.4 557.3 296 555 296.7 551.9C297.4 548.7 298 544.4 298.7 538.1C299.4 531.9 300 525.1 300.7 519.9C301.4 514.8 302 510.7 302.7 506.7C303.4 502.7 304 498.7 304.7 494.6C305.4 490.4 306 486.3 306.7 482.6C307.4 478.9 308 475.8 308.7 473.3C309.4 470.7 310 468.8 310.7 467.3C311.4 465.9 312 465 312.7 464.5C313.4 464 314 463.8 314.7 464C315.4 464.2 316 464.7 316.7 465.9C317.4 467.1 318 468.9 318.7 471.4C319.4 473.8 320 476.9 320.7 480.3C321.4 483.7 322 487.4 322.7 491.3C323.3 495.2 324 499.1 324.7 503.2C325.3 507.4 326 511.8 326.7 516.8C327.3 521.7 328 527.2 328.7 532.7C329.3 538.3 330 543.9 330.7 549.3C331.3 554.6 332 559.6 332.7 564.1C333.3 568.6 334 572.6 334.7 576.3C335.3 580 336 583.4 336.7 586.8C337.3 590.1 338 593.3 338.7 596.3C339.3 599.2 340 601.9 340.7 604.2C341.3 606.5 342 608.4 342.7 609.8C343.3 611.2 344 612.2 344.7 612.7C345.3 613.1 346 613.2 346.7 612.9C347.3 612.5 348 611.8 348.7 610.7C349.3 609.6 350 608.2 350.7 606.5C351.3 604.7 352 602.5 352.7 599.7C353.3 596.9 354 593.4 354.7 589.7C355.3 586 356 582 356.7 578.3C357.3 574.7 358 571.3 358.7 568.3C359.3 565.2 360 562.4 360.7 559.7C361.3 557 362 554.5 362.7 552C363.3 549.6 364 547.2 364.6 544.9C365.3 542.6 366 540.3 366.6 538.2C367.3 536.1 368 534.1 368.6 532.4C369.3 530.7 370 529.2 370.6 528.1C371.3 526.9 372 526.1 372.6 525.4C373.3 524.8 374 524.3 374.6 524.1C375.3 523.8 376 523.7 376.6 523.8C377.3 523.8 378 523.9 378.6 524.2C379.3 524.4 380 524.7 380.6 525.1C381.3 525.4 382 525.8 382.6 526.3C383.3 526.8 384 527.3 384.6 527.9C385.3 528.4 386 529 386.6 529.6C387.3 530.3 388 530.9 388.6 531.6C389.3 532.2 390 532.9 390.6 533.5C391.3 534.2 392 534.8 392.6 535.5C393.3 536.1 394 536.7 394.6 537.3C395.3 537.9 396 538.5 396.6 539C397.3 539.5 398 540 398.6 540.4C399.3 540.9 400 541.2 400.6 541.5C401.3 541.8 402 542.1 402.6 542.2C403.3 542.3 404 542.4 404.6 542.4C405.3 542.3 405.9 542.2 406.6 542C407.3 541.8 407.9 541.4 408.6 541C409.3 540.6 409.9 540.1 410.6 539.4C411.3 538.8 411.9 538.1 412.6 537.3C413.3 536.5 413.9 535.7 414.6 534.8C415.3 534 415.9 533.1 416.6 532.3C417.3 531.5 417.9 530.7 418.6 529.9C419.3 529.2 419.9 528.4 420.6 527.6C421.3 526.8 421.9 526 422.6 525.1C423.3 524.2 423.9 523.3 424.6 522.5C425.3 521.6 425.9 520.8 426.6 520C427.3 519.3 427.9 518.6 428.6 518.1C429.3 517.5 429.9 517.1 430.6 516.8C431.3 516.5 431.9 516.3 432.6 516.2C433.3 516.1 433.9 516.1 434.6 516.2C435.3 516.4 435.9 516.6 436.6 517C437.3 517.3 437.9 517.8 438.6 518.4C439.3 518.9 439.9 519.6 440.6 520.4C441.3 521.2 441.9 522 442.6 523C443.3 523.9 443.9 525 444.6 526.1C445.2 527.2 445.9 528.4 446.6 529.6C447.2 530.8 447.9 532.1 448.6 533.5C449.2 534.8 449.9 536.2 450.6 537.6C451.2 539 451.9 540.5 452.6 541.9C453.2 543.3 453.9 544.7 454.6 546.1C455.2 547.5 455.9 548.9 456.6 550.2C457.2 551.6 457.9 552.8 458.6 554.1C459.2 555.3 459.9 556.4 460.6 557.5C461.2 558.6 461.9 559.6 462.6 560.5C463.2 561.3 463.9 562.1 464.6 562.8C465.2 563.4 465.9 563.9 466.6 564.3C467.2 564.6 467.9 564.9 468.6 564.9C469.2 565 469.9 564.9 470.6 564.7C471.2 564.4 471.9 564.1 472.6 563.6C473.2 563.1 473.9 562.5 474.6 561.7C475.2 561 475.9 560.2 476.6 559.2C477.2 558.3 477.9 557.2 478.6 556.1C479.2 554.9 479.9 553.7 480.6 552.4C481.2 551.1 481.9 549.8 482.6 548.3C483.2 546.9 483.9 545.4 484.6 543.8C485.2 542.3 485.9 540.7 486.5 539C487.2 537.4 487.9 535.7 488.5 534C489.2 532.3 489.9 530.6 490.5 528.9C491.2 527.1 491.9 525.4 492.5 523.6C493.2 521.9 493.9 520.1 494.5 518.4C495.2 516.6 495.9 514.8 496.5 513.1C497.2 511.3 497.9 509.5 498.5 507.7C499.2 505.9 499.9 504 500.5 502.1C501.2 500.2 501.9 498.3 502.5 496.3C503.2 494.4 503.9 492.5 504.5 490.6C505.2 488.7 505.9 486.9 506.5 485.2C507.2 483.4 507.9 481.8 508.5 480.2C509.2 478.6 509.9 477.1 510.5 475.7C511.2 474.3 511.9 473 512.5 471.7C513.2 470.4 513.9 469.2 514.5 468.1C515.2 467 515.9 465.9 516.5 465C517.2 464 517.9 463 518.5 462.2C519.2 461.3 519.9 460.5 520.5 459.8C521.2 459 521.9 458.3 522.5 457.7C523.2 457 523.9 456.4 524.5 455.8C525.2 455.2 525.9 454.6 526.5 454.1C527.2 453.6 527.8 453 528.5 452.5C529.2 452 529.8 451.5 530.5 451C531.2 450.5 531.8 450 532.5 449.5C533.2 449 533.8 448.5 534.5 447.9C535.2 447.4 535.8 446.8 536.5 446.3C537.2 445.7 537.8 445 538.5 444.4C539.2 443.7 539.8 443 540.5 442.2C541.2 441.5 541.8 440.7 542.5 439.8C543.2 438.9 543.8 438 544.5 437C545.2 436 545.8 434.9 546.5 433.7C547.2 432.6 547.8 431.3 548.5 430C549.2 428.7 549.8 427.3 550.5 425.7C551.2 424.2 551.8 422.6 552.5 420.9C553.2 419.3 553.8 417.6 554.5 415.9C555.2 414.2 555.8 412.5 556.5 410.9C557.2 409.2 557.8 407.6 558.5 406.1C559.2 404.6 559.8 403.2 560.5 401.8C561.2 400.5 561.8 399.3 562.5 398.3C563.2 397.2 563.8 396.2 564.5 395.5C565.2 394.7 565.8 394 566.5 393.6C567.1 393.1 567.8 392.8 568.5 392.7C569.1 392.6 569.8 392.7 570.5 392.9C571.1 393.2 571.8 393.6 572.5 394.2C573.1 394.8 573.8 395.6 574.5 396.5C575.1 397.4 575.8 398.5 576.5 399.7C577.1 401 577.8 402.4 578.5 403.8C579.1 405.3 579.8 406.9 580.5 408.5C581.1 410 581.8 411.6 582.5 413.2C583.1 414.8 583.8 416.4 584.5 417.9C585.1 419.5 585.8 421 586.5 422.4C587.1 423.8 587.8 425.2 588.5 426.5C589.1 427.8 589.8 429 590.5 430C591.1 431.1 591.8 432.1 592.5 432.9C593.1 433.7 593.8 434.4 594.5 435C595.1 435.6 595.8 436 596.5 436.3C597.1 436.6 597.8 436.8 598.5 436.8C599.1 436.8 599.8 436.6 600.5 436.3C601.1 436 601.8 435.5 602.5 435C603.1 434.4 603.8 433.7 604.5 433C605.1 432.2 605.8 431.3 606.5 430.4C607.1 429.5 607.8 428.6 608.4 427.6C609.1 426.6 609.8 425.6 610.4 424.6C611.1 423.5 611.8 422.5 612.4 421.5C613.1 420.5 613.8 419.5 614.4 418.5C615.1 417.6 615.8 416.6 616.4 415.7C617.1 414.8 617.8 413.9 618.4 413.1C619.1 412.3 619.8 411.5 620.4 410.8C621.1 410.2 621.8 409.5 622.4 409C623.1 408.4 623.8 408 624.4 407.5C625.1 407.1 625.8 406.7 626.4 406.4C627.1 406.1 627.8 405.8 628.4 405.6C629.1 405.4 629.8 405.2 630.4 405.1C631.1 404.9 631.8 404.8 632.4 404.7C633.1 404.6 633.8 404.6 634.4 404.6C635.1 404.5 635.8 404.5 636.4 404.5C637.1 404.6 637.8 404.6 638.4 404.6C639.1 404.7 639.8 404.8 640.4 404.8C641.1 404.9 641.8 405 642.4 405.1C643.1 405.2 643.8 405.3 644.4 405.4C645.1 405.6 645.8 405.7 646.4 405.8C647.1 405.9 647.8 406.1 648.4 406.2C649.1 406.3 649.7 406.4 650.4 406.5C651.1 406.7 651.7 406.8 652.4 406.9C653.1 407 653.7 407.1 654.4 407.2C655.1 407.3 655.7 407.5 656.4 407.6C657.1 407.7 657.7 407.8 658.4 407.9C659.1 408 659.7 408.1 660.4 408.2C661.1 408.2 661.7 408.3 662.4 408.4C663.1 408.5 663.7 408.6 664.4 408.7C665.1 408.8 665.7 408.9 666.4 408.9C667.1 409 667.7 409.1 668.4 409.2"/>
<path class="c ddb" d="M22.9 422.8C23.6 422.5 24.3 422.3 24.9 422.1C25.6 422 26.3 422 26.9 422C27.6 422 28.3 422.1 28.9 422.2C29.6 422.3 30.3 422.4 30.9 422.6C31.6 422.8 32.2 422.9 32.9 423.1C33.6 423.3 34.2 423.5 34.9 423.8C35.6 424.1 36.2 424.5 36.9 425C37.6 425.5 38.2 426.1 38.9 427C39.6 427.8 40.2 428.8 40.9 429.9C41.6 431.1 42.2 432.3 42.9 433.7C43.6 435 44.2 436.4 44.9 437.8C45.6 439.3 46.2 440.7 46.9 442.1C47.6 443.5 48.2 445 48.9 446.5C49.6 448 50.2 449.6 50.9 451.2C51.5 452.9 52.2 454.6 52.9 456.3C53.5 458 54.2 459.8 54.9 461.5C55.5 463.2 56.2 464.8 56.9 466.4C57.5 468 58.2 469.6 58.9 471.1C59.5 472.6 60.2 474.1 60.9 475.5C61.5 476.9 62.2 478.2 62.9 479.5C63.5 480.8 64.2 482 64.9 483.1C65.5 484.2 66.2 485.3 66.9 486.3C67.5 487.3 68.2 488.2 68.9 489C69.5 489.8 70.2 490.5 70.9 491.1C71.5 491.8 72.2 492.3 72.8 492.8C73.5 493.2 74.2 493.5 74.8 493.8C75.5 494 76.2 494.2 76.8 494.2C77.5 494.2 78.2 494.1 78.8 493.9C79.5 493.8 80.2 493.4 80.8 493C81.5 492.6 82.2 492 82.8 491.4C83.5 490.7 84.2 489.9 84.8 488.9C85.5 488 86.2 486.9 86.8 485.7C87.5 484.5 88.2 483.2 88.8 481.7C89.5 480.1 90.2 478.4 90.8 476.6C91.5 474.8 92.1 473 92.8 471.1C93.5 469.3 94.1 467.6 94.8 465.8C95.5 464.1 96.1 462.3 96.8 460.4C97.5 458.4 98.1 456.2 98.8 453.9C99.5 451.6 100.1 449.1 100.8 446.8C101.5 444.6 102.1 442.4 102.8 440.5C103.5 438.5 104.1 436.7 104.8 435.1C105.5 433.5 106.1 432.1 106.8 430.8C107.5 429.5 108.1 428.5 108.8 427.6C109.5 426.6 110.1 425.9 110.8 425.4C111.5 425 112.1 424.8 112.8 425C113.4 425.3 114.1 425.9 114.8 426.8C115.4 427.8 116.1 429 116.8 430.4C117.4 431.7 118.1 433.3 118.8 434.9C119.4 436.4 120.1 438.1 120.8 440.1C121.4 442.1 122.1 444.6 122.8 447.6C123.4 450.6 124.1 454.2 124.8 457.9C125.4 461.6 126.1 465.5 126.8 469.2C127.4 472.9 128.1 476.5 128.8 479.9C129.4 483.2 130.1 486.4 130.8 489.5C131.4 492.5 132.1 495.4 132.7 498.2C133.4 500.9 134.1 503.5 134.7 505.8C135.4 508.1 136.1 510.1 136.7 511.8C137.4 513.5 138.1 514.7 138.7 515.7C139.4 516.7 140.1 517.4 140.7 518C141.4 518.6 142.1 519.1 142.7 519.5C143.4 519.9 144.1 520.2 144.7 520.3C145.4 520.4 146.1 520.2 146.7 519.6C147.4 519 148.1 517.9 148.7 516.3C149.4 514.7 150.1 512.6 150.7 510.4C151.4 508.1 152.1 505.7 152.7 503.3C153.4 501 154 498.9 154.7 496.9C155.4 494.9 156 493 156.7 491.3C157.4 489.5 158 487.7 158.7 486C159.4 484.2 160 482.5 160.7 480.6C161.4 478.7 162 476.7 162.7 474.6C163.4 472.6 164 470.6 164.7 468.7C165.4 466.9 166 465.2 166.7 463.7C167.4 462.2 168 460.8 168.7 459.7C169.4 458.6 170 457.7 170.7 457C171.4 456.3 172 455.7 172.7 455.3C173.3 454.8 174 454.4 174.7 454.1C175.3 453.7 176 453.3 176.7 453C177.3 452.7 178 452.4 178.7 452C179.3 451.7 180 451.4 180.7 451.1C181.3 450.8 182 450.4 182.7 450.1C183.3 449.7 184 449.4 184.7 449C185.3 448.6 186 448.2 186.7 447.7C187.3 447.2 188 446.7 188.7 446.2C189.3 445.6 190 445.1 190.7 444.4C191.3 443.8 192 443 192.6 442.3C193.3 441.5 194 440.7 194.6 439.9C195.3 439 196 438.2 196.6 437.3C197.3 436.4 198 435.6 198.6 434.7C199.3 433.9 200 433 200.6 432.2C201.3 431.5 202 430.8 202.6 430.3C203.3 429.9 204 429.6 204.6 429.6C205.3 429.6 206 429.9 206.6 430.4C207.3 431 208 431.7 208.6 432.5C209.3 433.4 210 434.3 210.6 435.2C211.3 436.2 212 437 212.6 437.9C213.3 438.8 213.9 439.8 214.6 440.8C215.3 441.8 215.9 442.8 216.6 444C217.3 445.2 217.9 446.6 218.6 448C219.3 449.5 219.9 451 220.6 452.4C221.3 453.8 221.9 455 222.6 456.1C223.3 457.1 223.9 457.9 224.6 458.5C225.3 459.1 225.9 459.6 226.6 460C227.3 460.5 227.9 460.8 228.6 461.3C229.3 461.7 229.9 462.2 230.6 462.5C231.3 462.8 231.9 462.8 232.6 462.4C233.2 462 233.9 461.4 234.6 460.5C235.2 459.6 235.9 458.5 236.6 457.2C237.2 456 237.9 454.7 238.6 453.3C239.2 452 239.9 450.6 240.6 449.3C241.2 448 241.9 446.8 242.6 445.5C243.2 444.3 243.9 443.2 244.6 442.2C245.2 441.2 245.9 440.3 246.6 439.5C247.2 438.7 247.9 438.1 248.6 437.7C249.2 437.2 249.9 437 250.6 437C251.2 437 251.9 437.2 252.6 437.6C253.2 438 253.9 438.6 254.5 439.4C255.2 440.2 255.9 441.2 256.5 442.6C257.2 443.9 257.9 445.5 258.5 447.7C259.2 449.8 259.9 452.5 260.5 455.5C261.2 458.5 261.9 461.7 262.5 464.8C263.2 467.8 263.9 470.8 264.5 473.7C265.2 476.7 265.9 479.6 266.5 482.6C267.2 485.6 267.9 488.7 268.5 491.9C269.2 495.1 269.9 498.4 270.5 501.9C271.2 505.4 271.9 509 272.5 512.9C273.2 516.7 273.8 520.8 274.5 525.1C275.2 529.4 275.8 534 276.5 538.3C277.2 542.6 277.8 546.6 278.5 549.6C279.2 552.6 279.8 554.8 280.5 557C281.2 559.1 281.8 561.3 282.5 563.4C283.2 565.4 283.8 567.3 284.5 569C285.2 570.6 285.8 571.9 286.5 572.9C287.2 573.8 287.8 574.3 288.5 574.2C289.2 574.1 289.8 573.4 290.5 572.4C291.2 571.3 291.8 569.9 292.5 568.3C293.2 566.7 293.8 565 294.5 563.1C295.1 561.3 295.8 559.4 296.5 557.5C297.1 555.5 297.8 553.5 298.5 551.5C299.1 549.5 299.8 547.5 300.5 545.5C301.1 543.6 301.8 541.7 302.5 539.8C303.1 538 303.8 536.3 304.5 534.7C305.1 533.2 305.8 531.8 306.5 530.6C307.1 529.4 307.8 528.4 308.5 527.8C309.1 527.1 309.8 526.8 310.5 526.9C311.1 527.1 311.8 527.6 312.5 528.4C313.1 529.2 313.8 530.2 314.4 531.3C315.1 532.4 315.8 533.6 316.4 534.9C317.1 536.1 317.8 537.4 318.4 538.9C319.1 540.4 319.8 542.2 320.4 544.4C321.1 546.5 321.8 549.3 322.4 552.3C323.1 555.3 323.8 558.4 324.4 561.2C325.1 563.9 325.8 566.4 326.4 568.7C327.1 571.1 327.8 573.4 328.4 575.5C329.1 577.7 329.8 579.8 330.4 581.8C331.1 583.7 331.8 585.5 332.4 587C333.1 588.5 333.7 589.8 334.4 590.9C335.1 591.9 335.7 592.7 336.4 593.2C337.1 593.7 337.7 593.9 338.4 593.8C339.1 593.6 339.7 593.1 340.4 592.4C341.1 591.6 341.7 590.6 342.4 589.3C343.1 588 343.7 586.5 344.4 584.9C345.1 583.2 345.7 581.4 346.4 579.4C347.1 577.3 347.7 575.2 348.4 572.8C349.1 570.4 349.7 567.9 350.4 565.1C351.1 562.3 351.7 559.3 352.4 556.3C353.1 553.2 353.7 550.2 354.4 547.4C355 544.5 355.7 541.8 356.4 539.2C357 536.6 357.7 534.1 358.4 531.8C359 529.4 359.7 527.2 360.4 525.1C361 522.9 361.7 520.9 362.4 518.9C363 517 363.7 515.1 364.4 513.4C365 511.6 365.7 510 366.4 508.5C367 507.1 367.7 505.7 368.4 504.5C369 503.3 369.7 502.2 370.4 501.3C371 500.3 371.7 499.6 372.4 498.9C373 498.2 373.7 497.7 374.3 497.2C375 496.8 375.7 496.5 376.3 496.3C377 496 377.7 495.9 378.3 495.8C379 495.7 379.7 495.8 380.3 495.8C381 495.9 381.7 496 382.3 496.2C383 496.4 383.7 496.7 384.3 497C385 497.3 385.7 497.6 386.3 498C387 498.4 387.7 498.8 388.3 499.3C389 499.8 389.7 500.3 390.3 500.9C391 501.4 391.7 502 392.3 502.6C393 503.2 393.7 503.9 394.3 504.5C395 505.2 395.6 505.9 396.3 506.7C397 507.4 397.6 508.2 398.3 509C399 509.8 399.6 510.7 400.3 511.5C401 512.4 401.6 513.3 402.3 514.3C403 515.2 403.6 516.1 404.3 517.1C405 518 405.6 518.9 406.3 519.8C407 520.7 407.6 521.5 408.3 522.3C409 523.1 409.6 523.9 410.3 524.6C411 525.3 411.6 525.9 412.3 526.5C413 527.1 413.6 527.6 414.3 528C414.9 528.5 415.6 528.8 416.3 529.1C416.9 529.4 417.6 529.6 418.3 529.7C418.9 529.7 419.6 529.8 420.3 529.7C420.9 529.6 421.6 529.5 422.3 529.3C422.9 529.1 423.6 528.9 424.3 528.6C424.9 528.3 425.6 528 426.3 527.7C426.9 527.4 427.6 527 428.3 526.6C428.9 526.1 429.6 525.6 430.3 525.1C430.9 524.5 431.6 523.9 432.3 523.1C432.9 522.4 433.6 521.6 434.3 520.7C434.9 519.8 435.6 518.8 436.2 517.8C436.9 516.9 437.6 515.9 438.2 514.9C438.9 513.9 439.6 512.9 440.2 512C440.9 511 441.6 510.2 442.2 509.3C442.9 508.5 443.6 507.8 444.2 507.1C444.9 506.5 445.6 505.9 446.2 505.4C446.9 504.9 447.6 504.4 448.2 504.1C448.9 503.8 449.6 503.5 450.2 503.3C450.9 503.1 451.6 502.9 452.2 502.9C452.9 502.8 453.6 502.7 454.2 502.8C454.9 502.8 455.5 502.8 456.2 502.9C456.9 503 457.5 503.2 458.2 503.3C458.9 503.5 459.5 503.7 460.2 503.9C460.9 504.1 461.5 504.3 462.2 504.5C462.9 504.7 463.5 504.9 464.2 505.1C464.9 505.3 465.5 505.5 466.2 505.7C466.9 505.9 467.5 506 468.2 506.1C468.9 506.1 469.5 506.1 470.2 506.1C470.9 506 471.5 505.9 472.2 505.6C472.9 505.4 473.5 505 474.2 504.6C474.9 504.1 475.5 503.6 476.2 502.9C476.8 502.3 477.5 501.6 478.2 500.7C478.8 499.9 479.5 499 480.2 498C480.8 497 481.5 495.9 482.2 494.8C482.8 493.6 483.5 492.4 484.2 491.1C484.8 489.8 485.5 488.5 486.2 487.1C486.8 485.7 487.5 484.3 488.2 482.8C488.8 481.3 489.5 479.8 490.2 478.3C490.8 476.7 491.5 475.2 492.2 473.6C492.8 472 493.5 470.5 494.2 468.9C494.8 467.3 495.5 465.7 496.1 464.2C496.8 462.6 497.5 461.1 498.1 459.5C498.8 457.9 499.5 456.4 500.1 454.8C500.8 453.2 501.5 451.7 502.1 450.1C502.8 448.5 503.5 446.9 504.1 445.3C504.8 443.7 505.5 442 506.1 440.4C506.8 438.8 507.5 437.2 508.1 435.6C508.8 434 509.5 432.5 510.1 431C510.8 429.4 511.5 428 512.1 426.6C512.8 425.2 513.5 423.8 514.1 422.6C514.8 421.3 515.4 420.1 516.1 419C516.8 417.8 517.4 416.8 518.1 415.7C518.8 414.7 519.4 413.7 520.1 412.8C520.8 411.9 521.4 411 522.1 410.2C522.8 409.3 523.4 408.6 524.1 407.9C524.8 407.3 525.4 406.7 526.1 406.3C526.8 405.9 527.4 405.5 528.1 405.3C528.8 405.1 529.4 405 530.1 404.9C530.8 404.8 531.4 404.9 532.1 404.9C532.8 405 533.4 405.1 534.1 405.3C534.8 405.5 535.4 405.7 536.1 405.9C536.7 406.1 537.4 406.4 538.1 406.6C538.7 406.9 539.4 407.1 540.1 407.3C540.7 407.5 541.4 407.7 542.1 407.9C542.7 408.1 543.4 408.2 544.1 408.3C544.7 408.4 545.4 408.5 546.1 408.5C546.7 408.5 547.4 408.5 548.1 408.4C548.7 408.4 549.4 408.2 550.1 408C550.7 407.8 551.4 407.6 552.1 407.3C552.7 407 553.4 406.6 554.1 406.1C554.7 405.7 555.4 405.1 556 404.5C556.7 403.9 557.4 403.2 558 402.4C558.7 401.7 559.4 400.9 560 400.1C560.7 399.3 561.4 398.5 562 397.8C562.7 397.1 563.4 396.5 564 395.9C564.7 395.3 565.4 394.8 566 394.4C566.7 394 567.4 393.6 568 393.4C568.7 393.1 569.4 392.9 570 392.7C570.7 392.6 571.4 392.5 572 392.5C572.7 392.5 573.4 392.6 574 392.7C574.7 392.8 575.4 393 576 393.3C576.7 393.5 577.3 393.8 578 394.2C578.7 394.6 579.3 395 580 395.5C580.7 396 581.3 396.6 582 397.2C582.7 397.8 583.3 398.5 584 399.2C584.7 399.9 585.3 400.7 586 401.6"/>
<path class="c ddb" stroke-dashoffset="14.7" d="M586 401.6C586.7 402.4 587.3 403.3 588 404.1C588.7 405 589.3 405.8 590 406.6C590.7 407.3 591.4 408 592 408.6C592.7 409.2 593.4 409.7 594 410.1C594.7 410.5 595.4 410.8 596 411.1C596.7 411.4 597.4 411.6 598.1 411.7C598.7 411.9 599.4 412 600.1 412.1C600.7 412.2 601.4 412.2 602.1 412.2C602.7 412.2 603.4 412.1 604.1 412C604.8 411.9 605.4 411.7 606.1 411.5C606.8 411.3 607.4 411 608.1 410.7C608.8 410.5 609.4 410.1 610.1 409.8C610.8 409.5 611.5 409.1 612.1 408.8C612.8 408.5 613.5 408.1 614.1 407.8C614.8 407.5 615.5 407.3 616.1 407.1C616.8 406.9 617.5 406.7 618.2 406.5C618.8 406.4 619.5 406.2 620.2 406.1C620.8 406.1 621.5 406 622.2 406C622.8 405.9 623.5 405.9 624.2 405.9C624.9 405.9 625.5 406 626.2 406.1C626.9 406.1 627.5 406.2 628.2 406.3C628.9 406.4 629.5 406.6 630.2 406.7C630.9 406.9 631.6 407 632.2 407.2C632.9 407.4 633.6 407.6 634.2 407.8C634.9 408 635.6 408.2 636.2 408.5C636.9 408.7 637.6 409 638.3 409.2C638.9 409.5 639.6 409.8 640.3 410.1C640.9 410.3 641.6 410.6 642.3 410.9C642.9 411.2 643.6 411.5 644.3 411.8C645 412.1 645.6 412.4 646.3 412.7C647 413 647.6 413.3 648.3 413.6C649 414 649.6 414.3 650.3 414.6C651 414.9 651.7 415.2 652.3 415.5C653 415.8 653.7 416.1 654.3 416.4C655 416.7 655.7 417 656.3 417.3C657 417.6 657.7 417.9 658.4 418.2C659 418.5 659.7 418.8 660.4 419.1C661 419.3 661.7 419.6 662.4 419.9C663 420.2 663.7 420.5 664.4 420.7C665.1 421 665.7 421.3 666.4 421.5C667.1 421.8 667.7 422.1 668.4 422.3"/>
<g class="pk" text-anchor="middle">
<text x="144.2" y="553.7">1</text>
<text x="358.1" y="633.6">2</text>
<text x="424.2" y="628.8">3</text>
<text x="488.4" y="605.9">4</text>
</g>
<g class="tick">
<text x="10.25" y="656.1" textLength="29.8" lengthAdjust="spacingAndGlyphs">1700</text>
<text x="139.25" y="656.1" textLength="29.8" lengthAdjust="spacingAndGlyphs">1680</text>
<text x="268.25" y="656.1" textLength="29.8" lengthAdjust="spacingAndGlyphs">1660</text>
<text x="397.25" y="656.1" textLength="29.8" lengthAdjust="spacingAndGlyphs">1640</text>
<text x="526.25" y="656.1" textLength="29.8" lengthAdjust="spacingAndGlyphs">1620</text>
<text x="655.25" y="656.1" textLength="29.8" lengthAdjust="spacingAndGlyphs">1600</text>
</g>
<text class="ax" x="283.7" y="676.4" textLength="153" lengthAdjust="spacingAndGlyphs">Wavenumber (cm<tspan font-size="10.5" dy="-5.5">-1</tspan><tspan dy="5.5">)</tspan></text>
<g transform="translate(15.1 523.8) rotate(-90)" font-size="16" font-weight="bold">
<text transform="translate(-0.6 0) scale(0.93 1.07)">d</text>
<text transform="translate(8.9 -6.4) scale(1.1 1)" class="sf" font-size="11.5" stroke="#000" stroke-width="0.2">2</text>
<text transform="translate(15.2 0) scale(1.0 1)">A</text>
<text transform="translate(26.3 2.5) scale(1.45 1)" style="font-weight:normal" font-size="21">/</text>
<text transform="translate(36.2 0) scale(0.93 1.07)">d</text>
<text transform="translate(45.8 0) scale(0.9 1)" class="sf" style="font-weight:bold;font-style:italic" font-size="19">υ</text>
<text transform="translate(55.2 -6.4) scale(1.1 1)" class="sf" font-size="11.5" stroke="#000" stroke-width="0.2">2</text>
</g>
</g>
</svg>
</body>
</html>
